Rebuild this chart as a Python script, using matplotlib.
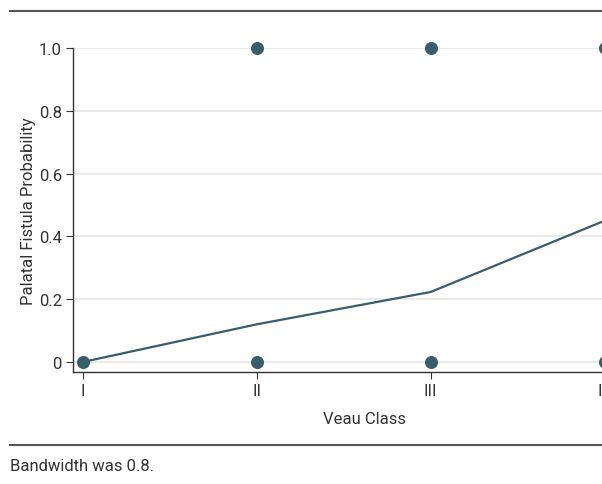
import matplotlib.pyplot as plt
from matplotlib.lines import Line2D

plt.rcParams['font.family'] = ['Roboto', 'DejaVu Sans']

classes = ['I', 'II', 'III', 'IV']
class_pos = [1, 2, 3, 4]
# observed outcomes (0 = no fistula, 1 = fistula)
obs_x = [1, 2, 2, 3, 3, 4, 4]
obs_y = [0, 0, 1, 0, 1, 0, 1]
# smoothed probability
smooth_y = [0.0, 0.12, 0.223, 0.45]

col = '#385d6d'
txt = '#333333'
fs = 12

fig = plt.figure(figsize=(6.02, 4.85), dpi=100)
ax = fig.add_axes([0.1213, 0.2309, 1.091 - 0.1213, 0.668])

ax.plot(class_pos, smooth_y, color=col, lw=1.6, zorder=3)
ax.scatter(obs_x, obs_y, s=70, color=col, zorder=4, clip_on=False)

ax.set_xlim(0.943, 4.3)
ax.set_ylim(-0.032, 1.0)
ax.set_xticks(class_pos)
ax.set_xticklabels(classes)
ax.set_yticks([0, 0.2, 0.4, 0.6, 0.8, 1.0])
ax.set_yticklabels(['0', '0.2', '0.4', '0.6', '0.8', '1.0'])
ax.tick_params(labelsize=fs, colors=txt, length=5, width=0.8, pad=3)
ax.grid(axis='y', color='#e6e6e6', lw=1.2)
ax.set_axisbelow(True)
for s in ['top', 'right']:
    ax.spines[s].set_visible(False)
for s in ['left', 'bottom']:
    ax.spines[s].set_color(txt)
    ax.spines[s].set_linewidth(1.0)

ax.set_xlabel('Veau Class', fontsize=fs, color=txt, labelpad=9)
ax.set_ylabel('Palatal Fistula Probability', fontsize=fs, color=txt, labelpad=2)

fig.add_artist(Line2D([0.017, 1.0], [0.975, 0.975], color='#555555', lw=1.5))
fig.add_artist(Line2D([0.017, 1.0], [0.0804, 0.0804], color='#555555', lw=1.5))
fig.text(0.017, 0.039, 'Bandwidth was 0.8.', fontsize=fs, color=txt, va='center')

fig.savefig('out.png', dpi=100)
